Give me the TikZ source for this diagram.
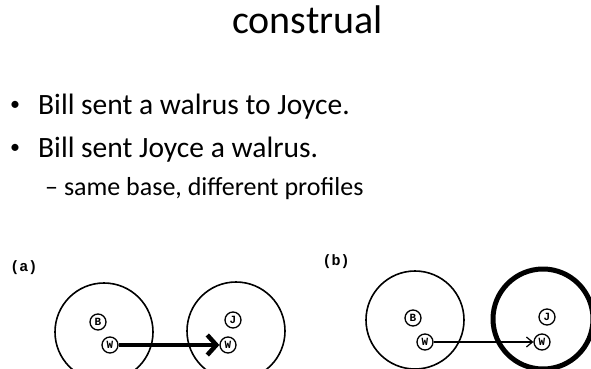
\documentclass[tikz,border=0pt]{standalone}
\usepackage{fontspec}
\setmainfont{Carlito}
\newfontfamily\scanfont{Liberation Mono}
\usetikzlibrary{arrows.meta}
\tikzset{
  titletext/.style={anchor=base west, inner sep=0pt, font=\fontsize{40}{44}\selectfont},
  bullettext/.style={anchor=base west, inner sep=0pt, font=\fontsize{29.5}{32}\selectfont},
  bulletmark/.style={inner sep=0pt, font=\fontsize{20}{20}\selectfont},
  subtext/.style={anchor=base west, inner sep=0pt, font=\fontsize{26}{28}\selectfont},
  panellabel/.style={inner sep=0pt, font=\scanfont\bfseries\fontsize{15}{16}\selectfont},
  region/.style={circle, draw, line width=1.6pt, inner sep=0pt, minimum size=98pt},
  entity/.style={circle, draw, line width=1.3pt, inner sep=0pt, minimum size=16pt,
    font=\scanfont\bfseries\fontsize{11}{11}\selectfont},
  transfer/.style={-{Straight Barb[length=9pt,width=20pt]}, line width=4.5pt},
  motion/.style={-{Straight Barb[length=6pt,width=10pt]}, line width=1.2pt}
}
\begin{document}
\begin{tikzpicture}[x=1pt, y=-1pt]
  \useasboundingbox (0,0) rectangle (591,369);
  \clip (0,0) rectangle (591,369);
  % slide text
  \node[titletext] (title) at (232,34) {construal};
  \node[bulletmark] (dotA) at (15,106) {•};
  \node[bullettext] (lineA) at (38,114) {Bill sent a walrus to Joyce.};
  \node[bulletmark] (dotB) at (15,149) {•};
  \node[bullettext] (lineB) at (38,157) {Bill sent Joyce a walrus.};
  \node[subtext] (lineC) at (45,195) {– same base, different profiles};
  % panel (a)
  \node[panellabel] (labA) at (24,268) {(a)};
  \node[region] (billA) at (104,332) {};
  \node[region] (joyceA) at (236,331) {};
  \node[entity] (bA) at (98,322) {B};
  \node[entity] (wA) at (110,345) {W};
  \node[entity] (jA) at (233,320) {J};
  \node[entity] (wA2) at (228,345) {W};
  \draw[transfer] (wA) -- (wA2);
  % panel (b)
  \node[panellabel] (labB) at (336,262) {(b)};
  \node[region] (billB) at (415,320) {};
  \node[region, line width=5pt, minimum size=100pt] (joyceB) at (543,319) {};
  \node[entity] (bB) at (413,318) {B};
  \node[entity] (wB) at (425,342) {W};
  \node[entity] (jB) at (547,317) {J};
  \node[entity] (wB2) at (542,342) {W};
  \draw[motion] (wB) -- (wB2);
\end{tikzpicture}
\end{document}
